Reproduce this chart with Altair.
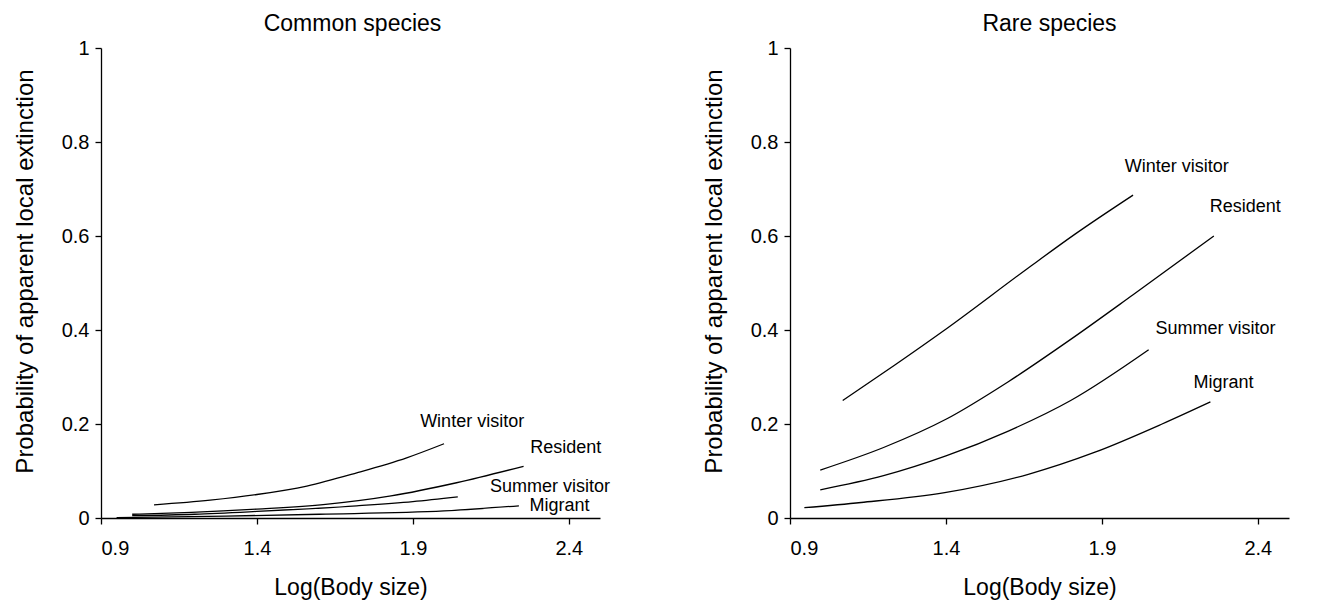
import altair as alt
import pandas as pd

# ---------------- data ----------------
series_names = ["Winter visitor", "Resident", "Summer visitor", "Migrant"]

# Common species
common_winter_x = [1.07, 1.25, 1.40, 1.56, 1.72, 1.88, 2.00]
common_winter_y = [0.028, 0.038, 0.050, 0.068, 0.096, 0.128, 0.158]
common_resident_x = [1.00, 1.19, 1.40, 1.62, 1.83, 2.04, 2.255]
common_resident_y = [0.008, 0.012, 0.019, 0.029, 0.047, 0.075, 0.110]
common_summer_x = [1.00, 1.20, 1.40, 1.72, 1.90, 2.044]
common_summer_y = [0.005, 0.008, 0.014, 0.026, 0.035, 0.045]
common_migrant_x = [0.95, 1.30, 1.60, 2.00, 2.24]
common_migrant_y = [0.001, 0.004, 0.008, 0.015, 0.026]

# Rare species
rare_winter_x = [1.069, 1.235, 1.396, 1.664, 1.814, 2.00]
rare_winter_y = [0.250, 0.325, 0.400, 0.532, 0.604, 0.687]
rare_resident_x = [0.997, 1.20, 1.40, 1.60, 1.80, 2.00, 2.259]
rare_resident_y = [0.102, 0.150, 0.210, 0.290, 0.380, 0.475, 0.600]
rare_summer_x = [0.997, 1.20, 1.40, 1.60, 1.80, 2.05]
rare_summer_y = [0.060, 0.090, 0.132, 0.185, 0.250, 0.358]
rare_migrant_x = [0.946, 1.128, 1.396, 1.664, 1.878, 2.093, 2.248]
rare_migrant_y = [0.022, 0.033, 0.054, 0.093, 0.140, 0.200, 0.247]

# label anchor positions
common_label_x = [2.09, 2.39, 2.34, 2.37]
common_label_y = [0.205, 0.150, 0.065, 0.026]
rare_label_x = [2.14, 2.36, 2.264, 2.29]
rare_label_y = [0.746, 0.661, 0.403, 0.288]

x_ticks = [0.9, 1.4, 1.9, 2.4]
y_ticks = [0, 0.2, 0.4, 0.6, 0.8, 1.0]

FONT = "Liberation Sans"


def make_lines(xs_list, ys_list):
    rows = []
    for name, xs, ys in zip(series_names, xs_list, ys_list):
        for i, (x, y) in enumerate(zip(xs, ys)):
            rows.append({"series": name, "x": x, "y": y, "order": i})
    return pd.DataFrame(rows)


def make_labels(xs, ys):
    return pd.DataFrame({"series": series_names, "x": xs, "y": ys})


def panel(title, lines_df, labels_df, title_dx):
    xscale = alt.Scale(domain=[0.9, 2.5], nice=False, zero=False)
    yscale = alt.Scale(domain=[0, 1], nice=False)
    xaxis = alt.Axis(values=x_ticks, format=".1f", title="Log(Body size)",
                     grid=False, tickSize=6, labelPadding=14, titlePadding=18)
    yaxis = alt.Axis(values=y_ticks, grid=False, tickSize=6, labelPadding=6,
                     labelExpr="datum.value == 0 ? '0' : (datum.value == 1 ? '1' : format(datum.value, '.1f'))",
                     title="Probability of apparent local extinction", titlePadding=24,
                     titleY=223, titleFontSize=24)
    lines = alt.Chart(lines_df).mark_line(color="black", strokeWidth=1.3, interpolate="monotone").encode(
        x=alt.X("x:Q", scale=xscale, axis=xaxis),
        y=alt.Y("y:Q", scale=yscale, axis=yaxis),
        detail="series:N",
        order="order:Q",
    )
    labels = alt.Chart(labels_df).mark_text(font=FONT, fontSize=18, color="black", align="center",
                                            baseline="middle").encode(
        x=alt.X("x:Q", scale=xscale),
        y=alt.Y("y:Q", scale=yscale),
        text="series:N",
    )
    return alt.layer(lines, labels).properties(
        width=499, height=470,
        title=alt.TitleParams(title, font=FONT, fontSize=23, fontWeight="normal", color="black",
                              anchor="middle", offset=2, dx=title_dx),
    )


left = panel("Common species",
             make_lines([common_winter_x, common_resident_x, common_summer_x, common_migrant_x],
                        [common_winter_y, common_resident_y, common_summer_y, common_migrant_y]),
             make_labels(common_label_x, common_label_y), 2)
right = panel("Rare species",
              make_lines([rare_winter_x, rare_resident_x, rare_summer_x, rare_migrant_x],
                         [rare_winter_y, rare_resident_y, rare_summer_y, rare_migrant_y]),
              make_labels(rare_label_x, rare_label_y), 10)

chart = alt.hconcat(left, right, spacing=91).configure_view(stroke=None).configure_axis(
    domainColor="black", tickColor="black", labelColor="black", titleColor="black",
    labelFont=FONT, titleFont=FONT, labelFontSize=20, titleFontSize=23,
    titleFontWeight="normal", domainWidth=1.3, tickWidth=1.3,
)

chart.save("out.html", embed_options={"renderer": "svg", "actions": False})
